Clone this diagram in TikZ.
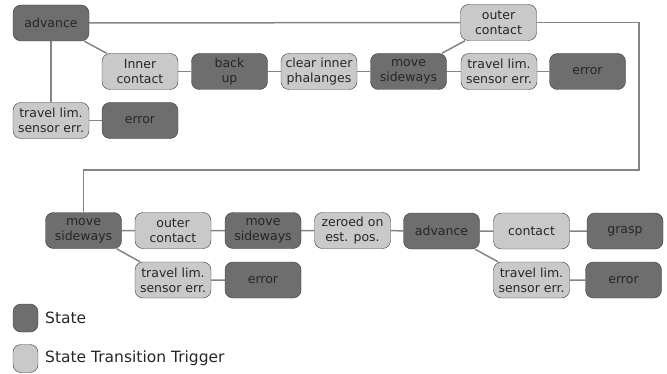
\documentclass[tikz,border=0pt]{standalone}
\usepackage{fontspec}
\setmainfont{DejaVu Sans}
\usetikzlibrary{backgrounds}

\definecolor{stategray}{HTML}{6E6E6E}
\definecolor{triggergray}{HTML}{C9C9C9}
\definecolor{framegray}{HTML}{3A3A3A}
\definecolor{linkgray}{HTML}{858585}

\tikzset{
	state/.style={draw=framegray, fill=stategray, rounded corners=8pt, minimum width=76pt,
		minimum height=36pt, inner sep=1pt, align=center, text=black!85,
		font=\fontsize{12.5}{15}\selectfont},
	trigger/.style={state, fill=triggergray},
	link/.style={draw=linkgray, line width=1.5pt},
	legendbox/.style={draw=framegray, rounded corners=8pt, minimum width=25pt,
		minimum height=28pt, inner sep=0pt},
	legendtext/.style={anchor=west, inner sep=0pt, text=black!85, font=\fontsize{15.5}{18}\selectfont}
}

\begin{document}
\begin{tikzpicture}[x=1pt,y=1pt]
	\useasboundingbox (0,0) rectangle (667,373);
	
	% first row
	\node[state] (advA) at (51,350) {advance};
	\node[trigger] (outerA) at (498.5,350.5) {outer\\contact};
	\node[trigger] (innerA) at (140,301.5) {Inner\\contact};
	\node[state] (backA) at (229.5,301.5) {back\\up};
	\node[trigger] (clearA) at (319,301.5) {clear inner\\phalanges};
	\node[state] (moveA) at (408.5,301.5) {move\\sideways};
	\node[trigger] (travelB) at (499,301.5) {travel lim.\\sensor err.};
	\node[state] (errorB) at (587.5,301.5) {error};
	\node[trigger] (travelA) at (51,252.5) {travel lim.\\sensor err.};
	\node[state] (errorA) at (140,252.5) {error};
	
	% second row
	\node[state] (moveB) at (83.5,142.5) {move\\sideways};
	\node[trigger] (outerB) at (173,142.5) {outer\\contact};
	\node[state] (moveC) at (263,142.5) {move\\sideways};
	\node[trigger] (zeroB) at (352.5,142.5) {zeroed on\\est. pos.};
	\node[state] (advB) at (441.5,142) {advance};
	\node[trigger] (contactB) at (531.5,142) {contact};
	\node[state] (graspB) at (625,142) {grasp};
	\node[trigger] (travelC) at (173,93) {travel lim.\\sensor err.};
	\node[state] (errorC) at (263,93) {error};
	\node[trigger] (travelD) at (531.5,93) {travel lim.\\sensor err.};
	\node[state] (errorD) at (623.5,93) {error};
	
	\coordinate (turn) at (639,203);
	
	% legend
	\node[legendbox, fill=stategray] (keyState) at (25.5,55) {};
	\node[legendtext] (keyStateText) at (45,55) {State};
	\node[legendbox, fill=triggergray] (keyTrig) at (25.5,14.5) {};
	\node[legendtext] (keyTrigText) at (45,14.5) {State Transition Trigger};
	
	\begin{scope}[on background layer]
		\draw[link] (advA) -- (outerA);
		\draw[link] (advA) -- (innerA);
		\draw[link] (advA) -- (travelA);
		\draw[link] (travelA) -- (errorA);
		\draw[link] (innerA) -- (backA) -- (clearA) -- (moveA) -- (travelB) -- (errorB);
		\draw[link] (moveA) -- (outerA);
		\draw[link] (outerA) -| (turn) -| (moveB);
		\draw[link] (moveB) -- (outerB) -- (moveC) -- (zeroB) -- (advB) -- (contactB) -- (graspB);
		\draw[link] (moveB) -- (travelC) -- (errorC);
		\draw[link] (advB) -- (travelD) -- (errorD);
	\end{scope}
	
\end{tikzpicture}
\end{document}
